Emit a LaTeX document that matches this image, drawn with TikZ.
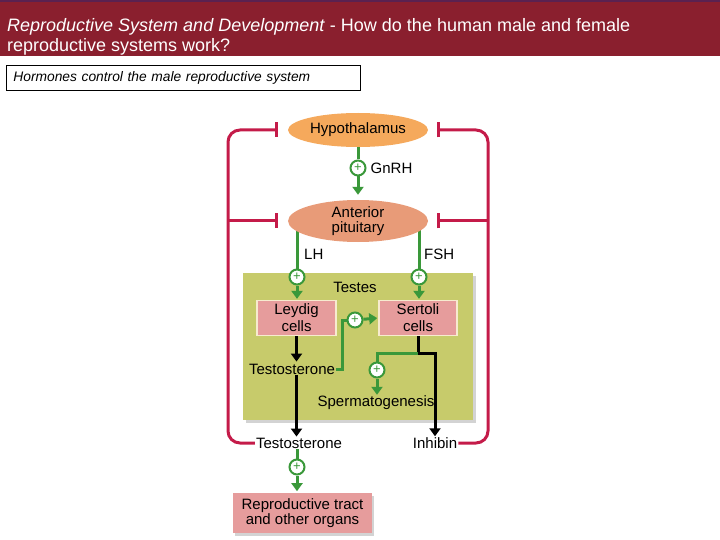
\documentclass[tikz,border=0pt]{standalone}
\usepackage{fontspec}
\setmainfont{Liberation Sans}
\usetikzlibrary{arrows.meta,positioning,shapes.geometric,shadows,backgrounds}
\definecolor{banner}{HTML}{8A1F2E}
\definecolor{bandtop}{HTML}{5B2150}
\definecolor{hypo}{HTML}{F5A95C}
\definecolor{pit}{HTML}{E89B78}
\definecolor{testis}{HTML}{C7CB6B}
\definecolor{cellpink}{HTML}{E69C9C}
\definecolor{cellrim}{HTML}{F7EBCF}
\definecolor{leaf}{HTML}{3A983A}
\definecolor{fbred}{HTML}{C41B49}
\tikzset{
  gland/.style={ellipse,minimum width=140pt,align=center,inner sep=0pt,font=\fontsize{15}{17}\selectfont},
  cellbox/.style={rectangle,draw=cellrim,line width=1.6pt,fill=cellpink,minimum height=34pt,align=center,font=\fontsize{15}{17}\selectfont},
  lbl/.style={inner sep=1pt,font=\fontsize{15}{17}\selectfont},
  plus/.style={circle,draw=leaf,fill=white,line width=2pt,minimum size=15pt,inner sep=0pt,text=leaf,font=\fontsize{13}{13}\selectfont},
  stim/.style={draw=leaf,line width=3pt},
  stimarr/.style={stim,-{Triangle[width=11pt,length=8pt]}},
  secr/.style={draw=black,line width=3pt,-{Triangle[width=11pt,length=8pt]}},
  inhib/.style={draw=fbred,line width=3pt,-{Bar[width=15pt]},rounded corners=12pt}
}
\begin{document}
\begin{tikzpicture}[x=1pt,y=-1pt]
  \useasboundingbox (0,0) rectangle (720,540);
  % title band
  \fill[banner] (0,0) rectangle (720,56);
  \fill[bandtop] (0,0) rectangle (720,2);
  \node[anchor=base west,inner sep=0pt,text=white,font=\fontsize{18}{20}\selectfont] (ttl1) at (7,32) {\textit{Reproductive System and Development} - How do the human male and female};
  \node[anchor=base west,inner sep=0pt,text=white,font=\fontsize{18}{20}\selectfont] (ttl2) at (7,52) {reproductive systems work?};
  \node[draw,line width=0.8pt,anchor=north west,minimum height=25pt,text width=340pt,inner xsep=7pt,font=\fontsize{13.8}{15}\selectfont\itshape] (sub) at (6,65) {Hormones control the male reproductive system};
  % glands
  \node[gland,fill=hypo,minimum height=34pt] (hyp) at (358,130) {Hypothalamus};
  \node[gland,fill=pit,minimum height=42pt] (ant) at (358,221) {Anterior\\[-2pt]pituitary};
  \node[plus] (pg) at (358,168) {+};
  \node[lbl,right=3pt of pg] (gnrh) {GnRH};
  \draw[stim] (hyp) -- (pg);
  \draw[stimarr,shorten >=5pt] (pg) -- (ant);
  % testes
  \node[cellbox,minimum width=79pt] (ley) at (296.5,318) {Leydig\\cells};
  \node[cellbox,minimum width=78pt] (ser) at (418,318) {Sertoli\\cells};
  \node[lbl] (tes) at (355,287) {Testes};
  \node[plus] (plh) at (297,277) {+};
  \node[plus] (pfsh) at (419,277) {+};
  \node[lbl,anchor=west] (lh) at (303,254) {LH};
  \node[lbl,anchor=west] (fsh) at (423,254) {FSH};
  \node[lbl] (tin) at (292,369) {Testosterone};
  \node[plus] (pts) at (355,320) {+};
  \node[plus] (psp) at (377,370) {+};
  \node[lbl] (spg) at (376,403) {Spermatogenesis};
  % outputs
  \node[lbl] (tout) at (299,443) {Testosterone};
  \node[lbl] (inh) at (435,443) {Inhibin};
  \node[plus] (prep) at (297,467) {+};
  \node[cellbox,draw=none,minimum width=139pt,minimum height=40pt,drop shadow={shadow xshift=2pt,shadow yshift=-3pt,opacity=.35}] (rep) at (302.5,513) {Reproductive tract\\[-2pt]and other organs};
  \coordinate (lrail) at (228,0);
  \coordinate (rrail) at (488,0);
  \begin{scope}[on background layer]
    \node[fill=testis,minimum width=230pt,minimum height=147pt,drop shadow={shadow xshift=3pt,shadow yshift=-3pt,opacity=.35}] (box) at (358,346.5) {};
    \draw[stim] (ant.center -| plh) -- (plh);
    \draw[stim] (ant.center -| pfsh) -- (pfsh);
    \draw[secr] (tin.south -| ley) -- (tout.north -| ley);
    \draw[secr] (ser.south) -- ++(0,17) -| (inh.north);
  \end{scope}
  \draw[stimarr,shorten >=1pt] (plh) -- (plh |- ley.north);
  \draw[stimarr,shorten >=1pt] (pfsh) -- (pfsh |- ser.north);
  \draw[secr,shorten >=1pt] (ley.south) -- (ley.south |- tin.north);
  \draw[stim] (tin.east) -- ++(6,0) |- (pts);
  \draw[stimarr,shorten >=1pt] (pts) -- (ser.west);
  \draw[stim] ([yshift=-17pt]ser.south) -| (psp);
  \draw[stimarr] (psp) -- (psp |- spg.north);
  \draw[stim] (tout.south -| prep) -- (prep);
  \draw[stimarr,shorten >=1pt] (prep) -- (prep |- rep.north);
  % negative feedback
  \draw[inhib,shorten >=10pt] (tout.west) -| (lrail |- hyp) -- (hyp.west);
  \draw[inhib,shorten >=10pt] (lrail |- ant) -- (ant.west);
  \draw[inhib,shorten >=9pt] (inh.east) -| (rrail |- hyp) -- (hyp.east);
  \draw[inhib,shorten >=9pt] (rrail |- ant) -- (ant.east);
\end{tikzpicture}
\end{document}
